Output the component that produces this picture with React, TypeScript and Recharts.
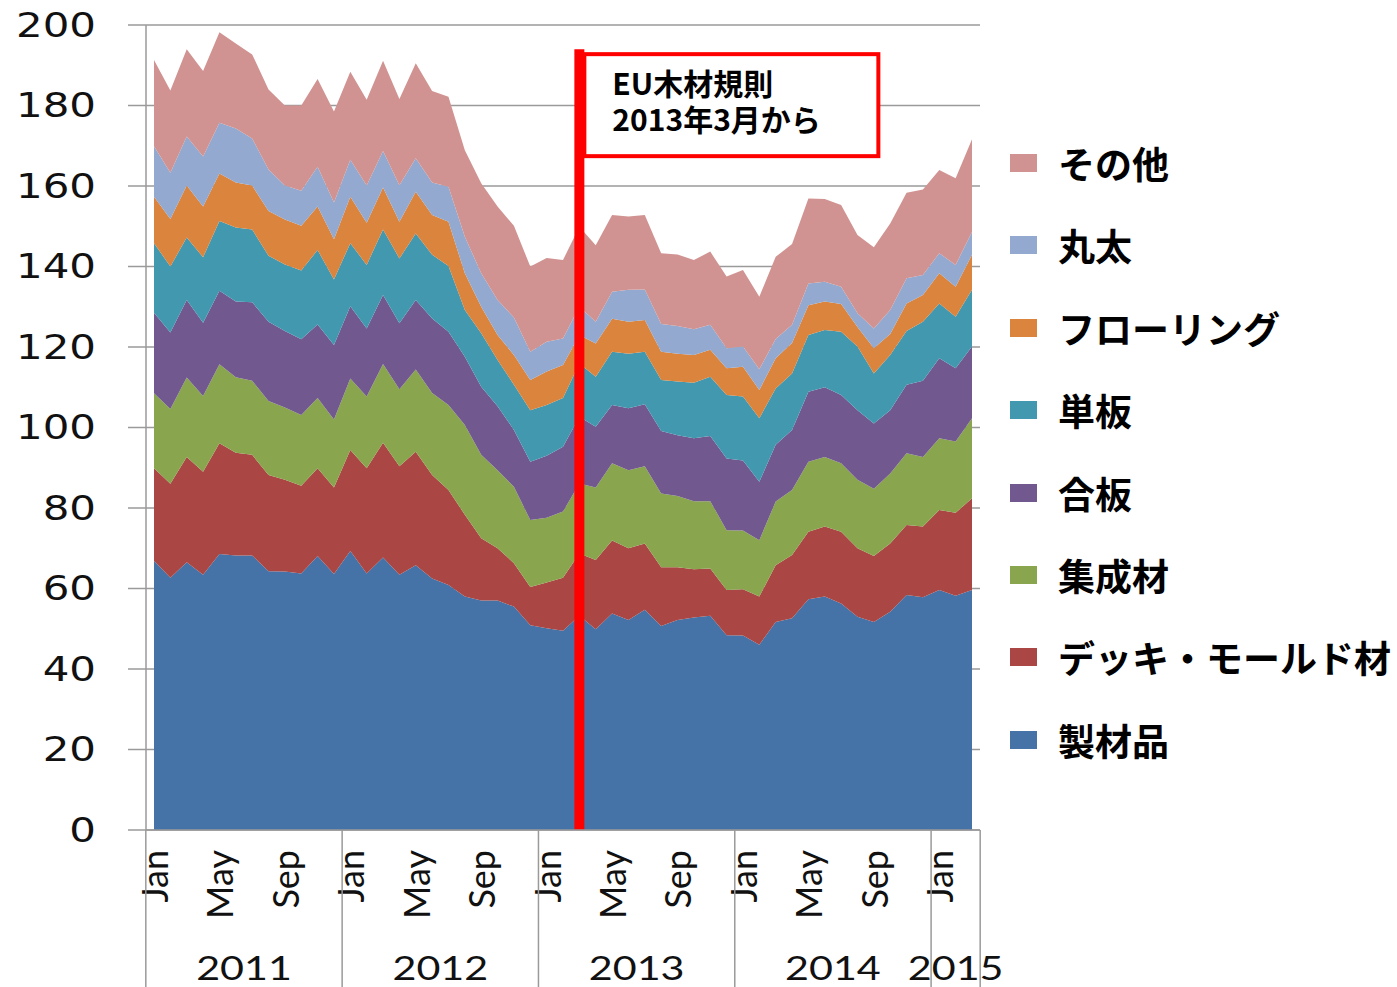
import React from 'react';
import { AreaChart, Area, XAxis, YAxis, CartesianGrid, Legend, ReferenceLine } from 'recharts';

// ---- categories (monthly, Jan 2011 – Mar 2015) ----
const months: string[] = [
  '2011-01', '2011-02', '2011-03', '2011-04', '2011-05', '2011-06', '2011-07', '2011-08', '2011-09', '2011-10', '2011-11', '2011-12',
  '2012-01', '2012-02', '2012-03', '2012-04', '2012-05', '2012-06', '2012-07', '2012-08', '2012-09', '2012-10', '2012-11', '2012-12',
  '2013-01', '2013-02', '2013-03', '2013-04', '2013-05', '2013-06', '2013-07', '2013-08', '2013-09', '2013-10', '2013-11', '2013-12',
  '2014-01', '2014-02', '2014-03', '2014-04', '2014-05', '2014-06', '2014-07', '2014-08', '2014-09', '2014-10', '2014-11', '2014-12',
  '2015-01', '2015-02', '2015-03',
];

// month tick labels shown on the axis
const monthTickLabels: Record<number, string> = { 1: 'Jan', 5: 'May', 9: 'Sep' };
const yTicks: number[] = [0, 20, 40, 60, 80, 100, 120, 140, 160, 180, 200];

// ---- series values ----
const seizai: number[] = [
  66.9, 62.7, 66.5, 63.4, 68.6, 68.2, 68.2, 64.3, 64.2, 63.7, 68.1, 63.6,
  69.3, 63.7, 67.7, 63.4, 65.8, 62.5, 60.9, 58.0, 57.0, 57.0, 55.5, 50.9,
  50.1, 49.5, 53.2, 49.9, 53.8, 52.2, 54.7, 50.7, 52.2, 52.8, 53.2, 48.4,
  48.3, 46.0, 51.7, 52.6, 57.3, 58.0, 56.3, 53.0, 51.7, 54.2, 58.4, 57.8,
  59.6, 58.2, 59.6,
];
const deck: number[] = [
  23.0, 23.3, 26.2, 25.6, 27.5, 25.5, 25.0, 23.9, 22.8, 21.8, 21.8, 21.5,
  25.1, 26.2, 28.5, 27.0, 28.2, 25.7, 23.6, 20.3, 15.5, 13.0, 10.8, 9.5,
  11.4, 13.2, 15.5, 17.2, 18.1, 17.8, 16.5, 14.6, 13.1, 12.0, 11.8, 11.2,
  11.5, 12.0, 14.1, 15.7, 16.8, 17.4, 17.8, 17.0, 16.4, 17.0, 17.4, 17.6,
  19.9, 20.6, 22.8,
];
const shusei: number[] = [
  18.6, 18.6, 19.7, 18.8, 19.6, 18.8, 18.4, 18.4, 18.0, 17.6, 17.4, 16.9,
  17.8, 17.8, 19.6, 19.1, 20.4, 20.4, 21.1, 22.3, 20.7, 19.4, 19.0, 16.6,
  16.1, 16.4, 17.4, 18.0, 19.2, 19.4, 19.2, 18.3, 17.7, 16.9, 16.7, 14.9,
  14.6, 14.0, 15.8, 16.2, 17.4, 17.3, 17.0, 17.0, 16.7, 17.4, 17.8, 17.3,
  17.8, 17.7, 19.9,
];
const gohan: number[] = [
  20.0, 19.0, 19.3, 18.2, 18.3, 18.8, 19.5, 19.7, 19.0, 18.8, 18.3, 18.5,
  17.9, 16.9, 17.1, 16.4, 17.3, 18.5, 18.2, 17.0, 16.9, 15.9, 14.1, 14.5,
  15.4, 16.1, 16.6, 15.1, 14.5, 15.4, 15.4, 15.5, 15.1, 15.6, 16.2, 17.8,
  17.4, 14.5, 14.1, 14.9, 17.4, 17.3, 17.0, 17.3, 16.2, 15.7, 17.0, 18.9,
  19.9, 18.2, 17.8,
];
const tanpan: number[] = [
  17.3, 16.4, 15.5, 16.3, 17.3, 18.4, 18.1, 16.4, 16.5, 17.1, 18.5, 16.3,
  15.7, 15.8, 16.3, 16.1, 16.5, 15.8, 16.3, 11.6, 13.3, 11.5, 11.2, 12.8,
  12.6, 12.1, 13.2, 12.4, 13.2, 13.5, 13.0, 12.7, 13.3, 13.8, 14.7, 15.8,
  15.9, 15.8, 14.0, 14.0, 14.1, 14.2, 15.7, 15.8, 12.4, 13.7, 13.4, 14.7,
  13.6, 12.8, 14.1,
];
const flooring: number[] = [
  11.5, 11.8, 12.9, 12.6, 11.8, 11.2, 10.9, 11.1, 11.2, 11.1, 10.8, 10.0,
  11.5, 10.5, 10.4, 9.1, 10.4, 9.9, 11.0, 9.1, 6.6, 6.2, 7.4, 7.5,
  8.3, 8.2, 7.1, 8.3, 8.2, 8.0, 7.9, 7.0, 6.9, 6.9, 6.7, 6.6,
  7.4, 7.0, 7.5, 7.6, 7.4, 7.1, 6.9, 4.9, 6.3, 5.2, 6.8, 6.6,
  7.5, 7.5, 8.7,
];
const maruta: number[] = [
  12.6, 11.5, 12.2, 12.4, 12.6, 13.4, 11.7, 10.3, 8.4, 8.7, 9.9, 9.1,
  9.2, 9.2, 9.1, 9.1, 8.3, 8.1, 8.7, 9.1, 8.3, 8.7, 9.3, 7.0,
  7.4, 6.6, 7.0, 5.4, 6.7, 7.9, 7.6, 6.9, 6.9, 6.4, 6.2, 5.0,
  5.0, 5.2, 4.8, 4.5, 5.4, 4.9, 4.3, 3.4, 4.9, 6.0, 6.3, 5.0,
  5.0, 5.4, 5.7,
];
const sonota: number[] = [
  21.4, 20.4, 21.7, 21.3, 22.5, 21.1, 20.9, 19.9, 19.9, 21.2, 21.8, 22.6,
  21.9, 21.3, 22.4, 21.4, 23.6, 22.7, 22.4, 21.5, 22.4, 23.2, 22.8, 21.2,
  20.8, 19.5, 19.9, 19.0, 19.1, 18.2, 18.5, 17.6, 17.8, 17.2, 18.2, 17.8,
  19.0, 18.0, 20.4, 20.1, 21.1, 20.6, 20.3, 19.4, 20.2, 21.5, 21.2, 21.2,
  20.7, 21.5, 23.0,
];

const annotationMonth = '2013-03';
const annotationLines = ['EU木材規則', '2013年3月から'];

// series definitions, bottom of the stack first
const SERIES = [
  { key: 'seizai', name: '製材品', color: '#4572A7', values: seizai },
  { key: 'deck', name: 'デッキ・モールド材', color: '#AA4643', values: deck },
  { key: 'shusei', name: '集成材', color: '#89A54E', values: shusei },
  { key: 'gohan', name: '合板', color: '#71588F', values: gohan },
  { key: 'tanpan', name: '単板', color: '#4198AF', values: tanpan },
  { key: 'flooring', name: 'フローリング', color: '#DB843D', values: flooring },
  { key: 'maruta', name: '丸太', color: '#93A9CF', values: maruta },
  { key: 'sonota', name: 'その他', color: '#D19392', values: sonota },
];

const data = months.map((m, i) => {
  const row: Record<string, any> = { month: m };
  SERIES.forEach((s) => {
    row[s.key] = s.values[i];
  });
  return row;
});

// ---- layout ----
const W = 1397;
const H = 987;
const Y_AXIS_W = 146;
const LEGEND_W = 417;
const X_AXIS_H = 157;
const TOP = 25;
const PAD = 8;
const PLOT_W = W - Y_AXIS_W - LEGEND_W;
const STEP = (PLOT_W - 2 * PAD) / (months.length - 1);
const AXIS_COLOR = '#9a9a9a';
const TEXT_COLOR = '#111';

const YTick = (props: any) => {
  const { x, y, payload } = props;
  return (
    <text
      transform={`translate(${x + 1},${y}) scale(1.27,1)`}
      textAnchor="end"
      dy="0.36em"
      fontFamily="DejaVu Sans"
      fontSize={33}
      fill={TEXT_COLOR}
    >
      {payload.value}
    </text>
  );
};

const XTick = (props: any) => {
  const { x, y, payload } = props;
  const key: string = payload.value;
  const idx = months.indexOf(key);
  const [yy, mm] = key.split('-');
  const m = Number(mm);
  const els: React.ReactNode[] = [];
  const label = monthTickLabels[m];
  if (label) {
    els.push(
      <text
        key="m"
        transform={`translate(${x + 1},${y + 20}) rotate(-90)`}
        textAnchor="end"
        dy="0.36em"
        fontFamily="Lato"
        fontSize={36}
        fill={TEXT_COLOR}
      >
        {label}
      </text>,
    );
  }
  if (m === 1 || idx === 0) {
    const left = x - STEP / 2;
    els.push(<line key="s" x1={left} x2={left} y1={y} y2={H} stroke={AXIS_COLOR} strokeWidth={1.5} />);
    const count = months.filter((k) => k.startsWith(yy)).length;
    const cx = left + (count * STEP) / 2;
    els.push(
      <text
        key="y"
        transform={`translate(${cx},${y + 150}) scale(1.25,1)`}
        textAnchor="middle"
        fontFamily="Lato"
        fontSize={33}
        fill={TEXT_COLOR}
      >
        {yy}
      </text>,
    );
  }
  if (idx === months.length - 1) {
    const right = x + STEP / 2;
    els.push(<line key="e" x1={right} x2={right} y1={y} y2={H} stroke={AXIS_COLOR} strokeWidth={1.5} />);
  }
  return <g>{els}</g>;
};

const AnnotationLabel = (props: any) => {
  const vb = props.viewBox || {};
  const x = vb.x ?? 0;
  const y = vb.y ?? 0;
  return (
    <g>
      <rect x={x + 5} y={y + 5} width={294} height={102} fill="#fff" stroke="#FF0000" strokeWidth={4} />
      <text fontFamily="Noto Sans CJK JP" fontWeight={700} fontSize={30} fill="#000">
        <tspan x={x + 33} y={y + 46}>{annotationLines[0]}</tspan>
        <tspan x={x + 33} y={y + 82}>{annotationLines[1]}</tspan>
      </text>
    </g>
  );
};

// legend lists series top of stack first, as in the reference
const legendOrder = [...SERIES].reverse();

const LegendContent = () => (
  <div style={{ position: 'relative', width: LEGEND_W, height: H }}>
    {legendOrder.map((s, i) => {
      const cy = 163 + i * 82.4;
      return (
        <div
          key={s.key}
          style={{ position: 'absolute', left: 30, top: cy - 25, height: 50, display: 'flex', alignItems: 'center', whiteSpace: 'nowrap' }}
        >
          <span style={{ display: 'inline-block', width: 27, height: 18, background: s.color }} />
          <span
            style={{
              marginLeft: 21,
              fontFamily: '"Noto Sans CJK JP"',
              fontWeight: 700,
              fontSize: 37,
              color: '#000',
              lineHeight: '50px',
            }}
          >
            {s.name}
          </span>
        </div>
      );
    })}
  </div>
);

export default function App() {
  return (
    <div style={{ position: 'absolute', left: 0, top: 0, width: W, height: H, background: '#fff' }}>
      <AreaChart width={W} height={H} data={data} margin={{ top: TOP, right: 0, bottom: 0, left: 0 }}>
        <CartesianGrid horizontal vertical={false} stroke={AXIS_COLOR} strokeWidth={1.5} />
        <XAxis
          dataKey="month"
          type="category"
          scale="point"
          padding={{ left: PAD, right: PAD }}
          interval={0}
          height={X_AXIS_H}
          tickLine={false}
          tickSize={0}
          tickMargin={0}
          axisLine={{ stroke: AXIS_COLOR, strokeWidth: 1.5 }}
          tick={<XTick />}
        />
        <YAxis
          width={Y_AXIS_W}
          domain={[0, 200]}
          ticks={yTicks}
          interval={0}
          tickSize={18}
          tickMargin={33}
          axisLine={{ stroke: AXIS_COLOR, strokeWidth: 1.5 }}
          tickLine={{ stroke: AXIS_COLOR, strokeWidth: 1.5 }}
          tick={<YTick />}
        />
        {SERIES.map((s) => (
          <Area
            key={s.key}
            type="linear"
            dataKey={s.key}
            name={s.name}
            stackId="1"
            stroke={s.color}
            strokeWidth={0}
            fill={s.color}
            fillOpacity={1}
            dot={false}
            activeDot={false}
            isAnimationActive={false}
          />
        ))}
        <ReferenceLine
          segment={[
            { x: annotationMonth, y: 0 },
            { x: annotationMonth, y: 194 },
          ]}
          stroke="#FF0000"
          strokeWidth={10}
          label={(p: any) => <AnnotationLabel {...p} />}
        />
        <Legend
          layout="vertical"
          align="right"
          verticalAlign="top"
          width={LEGEND_W}
          wrapperStyle={{ top: 0, right: 0 }}
          content={<LegendContent />}
        />
      </AreaChart>
    </div>
  );
}
